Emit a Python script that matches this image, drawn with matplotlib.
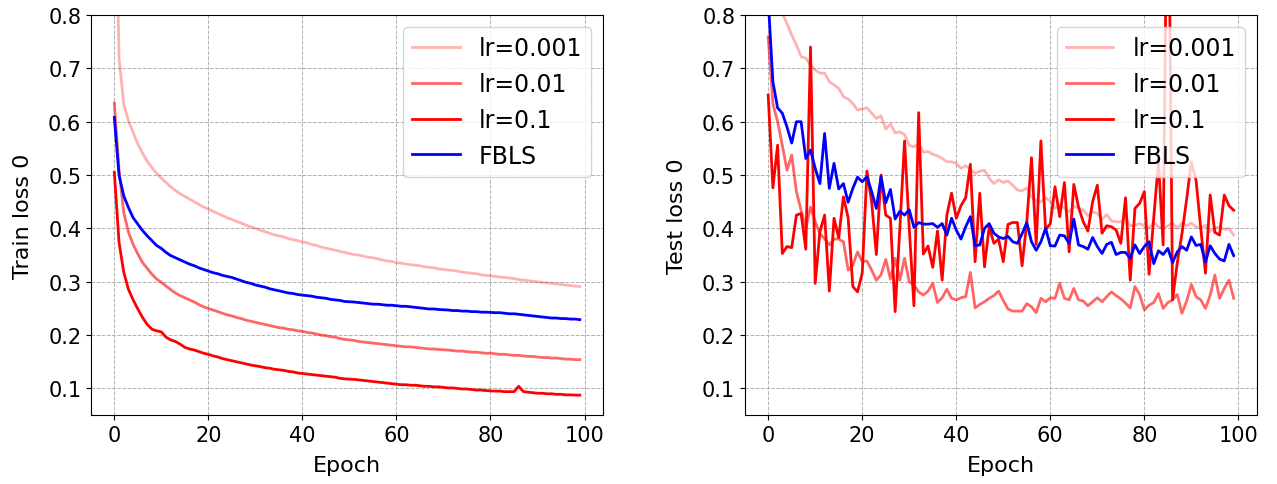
import matplotlib
matplotlib.use("Agg")
from matplotlib import pyplot as plt

# epochs 0..99
epochs = list(range(100))

# train loss
train_lr0001 = [1.20, 0.720, 0.633, 0.602, 0.580, 0.558, 0.541, 0.526, 0.514, 0.503,
                0.494, 0.486, 0.478, 0.471, 0.465, 0.460, 0.455, 0.450, 0.445, 0.440,
                0.436, 0.432, 0.428, 0.424, 0.420, 0.417, 0.413, 0.410, 0.406, 0.403,
                0.400, 0.397, 0.394, 0.391, 0.388, 0.386, 0.384, 0.381, 0.379, 0.377,
                0.375, 0.373, 0.370, 0.368, 0.365, 0.363, 0.361, 0.359, 0.357, 0.355,
                0.353, 0.351, 0.350, 0.348, 0.346, 0.345, 0.343, 0.341, 0.339, 0.338,
                0.336, 0.335, 0.333, 0.332, 0.331, 0.330, 0.328, 0.327, 0.326, 0.324,
                0.323, 0.322, 0.321, 0.320, 0.318, 0.317, 0.316, 0.315, 0.313, 0.312,
                0.311, 0.310, 0.309, 0.308, 0.307, 0.306, 0.304, 0.303, 0.302, 0.301,
                0.300, 0.299, 0.298, 0.297, 0.296, 0.295, 0.294, 0.293, 0.292, 0.291]
train_lr001 = [0.635, 0.510, 0.430, 0.393, 0.370, 0.352, 0.336, 0.325, 0.314, 0.305,
               0.299, 0.292, 0.285, 0.279, 0.274, 0.270, 0.266, 0.262, 0.257, 0.253,
               0.250, 0.247, 0.244, 0.241, 0.238, 0.236, 0.233, 0.231, 0.228, 0.226,
               0.224, 0.222, 0.220, 0.218, 0.216, 0.214, 0.213, 0.211, 0.210, 0.208,
               0.207, 0.205, 0.204, 0.202, 0.200, 0.199, 0.197, 0.196, 0.1935, 0.192,
               0.191, 0.190, 0.188, 0.187, 0.186, 0.185, 0.184, 0.183, 0.182, 0.181,
               0.180, 0.179, 0.178, 0.178, 0.177, 0.176, 0.175, 0.174, 0.174, 0.173,
               0.1725, 0.172, 0.171, 0.170, 0.170, 0.169, 0.168, 0.168, 0.167, 0.166,
               0.166, 0.165, 0.164, 0.164, 0.163, 0.162, 0.162, 0.161, 0.160, 0.160,
               0.159, 0.158, 0.158, 0.157, 0.157, 0.156, 0.155, 0.155, 0.154, 0.154]
train_lr01 = [0.505, 0.374, 0.318, 0.286, 0.266, 0.249, 0.233, 0.220, 0.211, 0.208,
              0.206, 0.196, 0.191, 0.188, 0.183, 0.177, 0.174, 0.172, 0.169, 0.166,
              0.164, 0.161, 0.159, 0.156, 0.154, 0.152, 0.150, 0.148, 0.146, 0.144,
              0.1425, 0.141, 0.139, 0.138, 0.136, 0.135, 0.134, 0.132, 0.131, 0.129,
              0.128, 0.127, 0.126, 0.125, 0.124, 0.123, 0.122, 0.121, 0.119, 0.118,
              0.1175, 0.117, 0.116, 0.115, 0.114, 0.113, 0.112, 0.111, 0.110, 0.109,
              0.108, 0.107, 0.107, 0.106, 0.106, 0.105, 0.104, 0.104, 0.103, 0.103,
              0.102, 0.101, 0.101, 0.100, 0.099, 0.099, 0.098, 0.097, 0.097, 0.096,
              0.0955, 0.095, 0.095, 0.094, 0.094, 0.094, 0.104, 0.094, 0.093, 0.092,
              0.091, 0.091, 0.090, 0.090, 0.089, 0.089, 0.088, 0.088, 0.0875, 0.0875]
train_fbls = [0.608, 0.500, 0.461, 0.439, 0.420, 0.408, 0.396, 0.386, 0.377, 0.368,
              0.3625, 0.355, 0.349, 0.345, 0.341, 0.337, 0.333, 0.330, 0.326, 0.323,
              0.320, 0.317, 0.315, 0.312, 0.310, 0.308, 0.305, 0.302, 0.299, 0.297,
              0.294, 0.292, 0.290, 0.287, 0.285, 0.283, 0.281, 0.279, 0.278, 0.276,
              0.275, 0.274, 0.273, 0.271, 0.270, 0.269, 0.267, 0.266, 0.265, 0.263,
              0.2625, 0.262, 0.261, 0.260, 0.259, 0.258, 0.258, 0.257, 0.256, 0.256,
              0.255, 0.254, 0.254, 0.253, 0.252, 0.251, 0.250, 0.249, 0.249, 0.248,
              0.2475, 0.247, 0.246, 0.246, 0.245, 0.245, 0.244, 0.244, 0.243, 0.243,
              0.2425, 0.242, 0.242, 0.241, 0.240, 0.240, 0.239, 0.238, 0.237, 0.236,
              0.235, 0.234, 0.233, 0.232, 0.232, 0.231, 0.231, 0.230, 0.230, 0.229]

# test loss
test_lr0001 = [0.95, 0.88, 0.835, 0.803, 0.784, 0.7625, 0.744, 0.722, 0.719, 0.706,
               0.697, 0.691, 0.691, 0.675, 0.669, 0.6625, 0.647, 0.6425, 0.634, 0.622,
               0.624, 0.626, 0.616, 0.606, 0.611, 0.586, 0.596, 0.579, 0.581, 0.576,
               0.556, 0.553, 0.559, 0.543, 0.544, 0.539, 0.536, 0.531, 0.525, 0.525,
               0.522, 0.5125, 0.5175, 0.511, 0.503, 0.5075, 0.509, 0.494, 0.484, 0.491,
               0.486, 0.489, 0.481, 0.472, 0.470, 0.476, 0.459, 0.451, 0.450, 0.4575,
               0.451, 0.4375, 0.444, 0.4375, 0.431, 0.441, 0.439, 0.434, 0.424, 0.431,
               0.428, 0.4175, 0.426, 0.414, 0.4125, 0.412, 0.420, 0.405, 0.406, 0.409,
               0.405, 0.401, 0.411, 0.403, 0.400, 0.405, 0.410, 0.400, 0.410, 0.405,
               0.410, 0.403, 0.400, 0.406, 0.394, 0.400, 0.403, 0.398, 0.400, 0.3875]
test_lr001 = [0.759, 0.634, 0.600, 0.556, 0.509, 0.5375, 0.469, 0.434, 0.400, 0.440,
              0.4125, 0.390, 0.381, 0.369, 0.380, 0.380, 0.375, 0.322, 0.331, 0.356,
              0.3375, 0.339, 0.322, 0.303, 0.313, 0.342, 0.305, 0.344, 0.303, 0.344,
              0.300, 0.294, 0.281, 0.275, 0.2825, 0.297, 0.261, 0.270, 0.286, 0.269,
              0.266, 0.270, 0.272, 0.3175, 0.251, 0.2575, 0.2625, 0.269, 0.274, 0.2825,
              0.265, 0.249, 0.245, 0.245, 0.245, 0.259, 0.253, 0.242, 0.269, 0.2625,
              0.270, 0.269, 0.297, 0.269, 0.266, 0.2875, 0.266, 0.264, 0.255, 0.2625,
              0.270, 0.2625, 0.272, 0.281, 0.274, 0.268, 0.260, 0.251, 0.291, 0.276,
              0.247, 0.256, 0.261, 0.278, 0.250, 0.261, 0.266, 0.276, 0.241, 0.264,
              0.295, 0.272, 0.266, 0.250, 0.275, 0.3125, 0.269, 0.2875, 0.303, 0.269]
test_lr01 = [0.650, 0.476, 0.556, 0.353, 0.366, 0.364, 0.425, 0.428, 0.361, 0.740,
             0.297, 0.394, 0.425, 0.2825, 0.419, 0.3825, 0.459, 0.420, 0.291, 0.281,
             0.316, 0.5075, 0.450, 0.351, 0.500, 0.425, 0.419, 0.244, 0.400, 0.564,
             0.400, 0.255, 0.617, 0.352, 0.367, 0.327, 0.395, 0.303, 0.425, 0.466,
             0.419, 0.4425, 0.4575, 0.520, 0.3375, 0.466, 0.328, 0.403, 0.372, 0.380,
             0.3375, 0.4075, 0.411, 0.411, 0.330, 0.4125, 0.5325, 0.370, 0.564, 0.397,
             0.409, 0.478, 0.422, 0.486, 0.356, 0.4825, 0.440, 0.4125, 0.395, 0.450,
             0.481, 0.391, 0.405, 0.403, 0.397, 0.372, 0.4575, 0.303, 0.4375, 0.447,
             0.469, 0.314, 0.420, 0.525, 0.369, 1.200, 0.266, 0.335, 0.390, 0.455,
             0.525, 0.490, 0.400, 0.316, 0.4625, 0.3925, 0.3875, 0.4625, 0.4425, 0.434]
test_fbls = [0.830, 0.675, 0.626, 0.616, 0.590, 0.560, 0.600, 0.600, 0.531, 0.547,
             0.5125, 0.484, 0.578, 0.475, 0.522, 0.474, 0.484, 0.449, 0.475, 0.496,
             0.4875, 0.497, 0.469, 0.4375, 0.497, 0.448, 0.473, 0.4175, 0.432, 0.425,
             0.435, 0.402, 0.411, 0.408, 0.408, 0.409, 0.402, 0.409, 0.3875, 0.419,
             0.397, 0.380, 0.403, 0.422, 0.3675, 0.369, 0.400, 0.409, 0.391, 0.384,
             0.381, 0.385, 0.375, 0.372, 0.390, 0.411, 0.375, 0.359, 0.375, 0.400,
             0.3675, 0.367, 0.3875, 0.386, 0.372, 0.4175, 0.369, 0.366, 0.361, 0.383,
             0.366, 0.353, 0.370, 0.374, 0.351, 0.355, 0.355, 0.344, 0.369, 0.353,
             0.366, 0.375, 0.334, 0.358, 0.351, 0.3625, 0.336, 0.356, 0.366, 0.359,
             0.384, 0.368, 0.370, 0.337, 0.3675, 0.353, 0.3425, 0.339, 0.370, 0.349]

labels = ["lr=0.001", "lr=0.01", "lr=0.1", "FBLS"]

plt.rcParams['font.size'] = 16
plt.rcParams['xtick.labelsize'] = 15
plt.rcParams['ytick.labelsize'] = 15

fig = plt.figure(figsize=(12.77, 4.85), dpi=100)
fig.subplots_adjust(left=0.0713, right=0.9843, top=0.967, bottom=0.142, wspace=0.277)


def draw(ax, series, ylabel):
    #same four lines on each panel, red fading with smaller lr
    ax.plot(epochs, series[0], color='r', alpha=0.3, lw=2, label=labels[0])
    ax.plot(epochs, series[1], color='r', alpha=0.6, lw=2, label=labels[1])
    ax.plot(epochs, series[2], color='r', lw=2, label=labels[2])
    ax.plot(epochs, series[3], color='b', lw=2, label=labels[3])
    ax.set_ylim(0.05, 0.8)
    ax.set_yticks([0.1, 0.2, 0.3, 0.4, 0.5, 0.6, 0.7, 0.8])
    ax.set_xticks([0, 20, 40, 60, 80, 100])
    ax.grid(True, linestyle='--', color='#b0b0b0', linewidth=0.7)
    ax.set_xlabel("Epoch", labelpad=7)
    ax.set_ylabel(ylabel, labelpad=11)
    ax.legend(loc='upper right', fontsize=17)


ax1 = fig.add_subplot(1, 2, 1)
draw(ax1, [train_lr0001, train_lr001, train_lr01, train_fbls], "Train loss 0")

ax2 = fig.add_subplot(1, 2, 2)
draw(ax2, [test_lr0001, test_lr001, test_lr01, test_fbls], "Test loss 0")

fig.savefig("out.png", dpi=100)
